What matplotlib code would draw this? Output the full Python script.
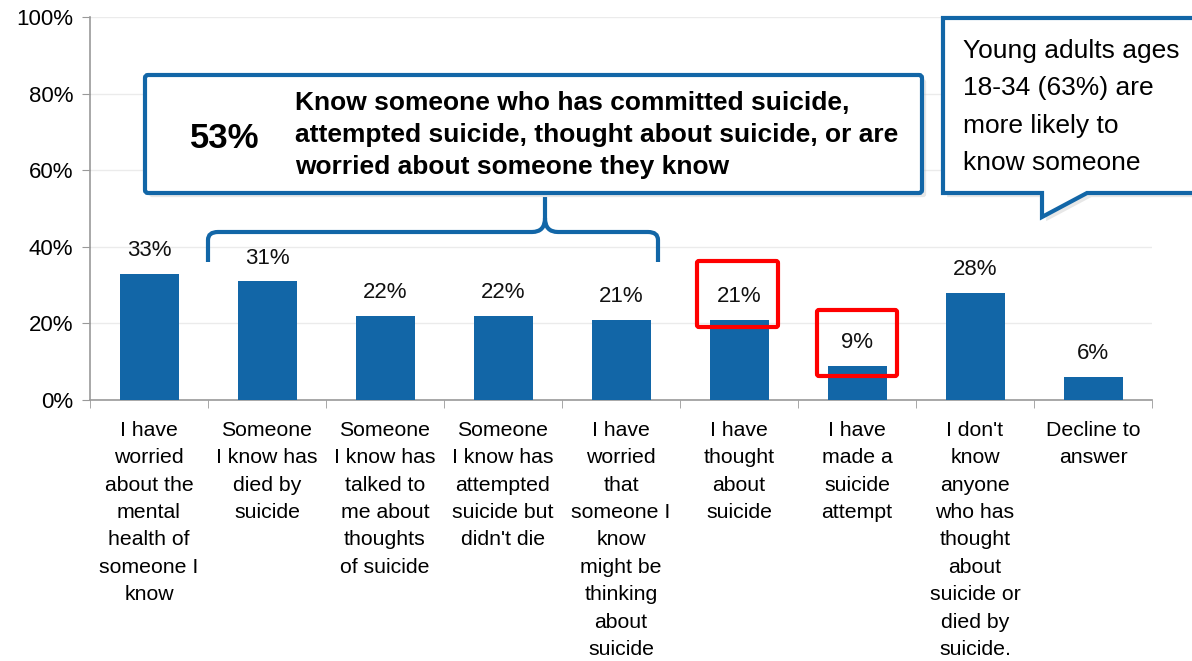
import matplotlib
matplotlib.use("Agg")
import matplotlib.pyplot as plt
from matplotlib.path import Path
from matplotlib.patches import PathPatch, FancyBboxPatch
from matplotlib.transforms import Affine2D
import matplotlib.patheffects as pe

plt.rcParams['font.family'] = ['Liberation Sans', 'DejaVu Sans']

categories = [
    "I have\nworried\nabout the\nmental\nhealth of\nsomeone I\nknow",
    "Someone\nI know has\ndied by\nsuicide",
    "Someone\nI know has\ntalked to\nme about\nthoughts\nof suicide",
    "Someone\nI know has\nattempted\nsuicide but\ndidn't die",
    "I have\nworried\nthat\nsomeone I\nknow\nmight be\nthinking\nabout\nsuicide",
    "I have\nthought\nabout\nsuicide",
    "I have\nmade a\nsuicide\nattempt",
    "I don't\nknow\nanyone\nwho has\nthought\nabout\nsuicide or\ndied by\nsuicide.",
    "Decline to\nanswer",
]
values = [33, 31, 22, 22, 21, 21, 9, 28, 6]
yticks = [0, 20, 40, 60, 80, 100]
ytick_labels = ["0%", "20%", "40%", "60%", "80%", "100%"]

BLUE = "#1266A7"
W, H = 1192, 661
fig = plt.figure(figsize=(W / 100, H / 100), dpi=100)
ax = fig.add_axes([90 / W, 1 - 400 / H, (1152 - 90) / W, (400 - 17) / H])

x = list(range(len(values)))
ax.bar(x, values, width=0.5, color=BLUE, zorder=3)
for xi, v in zip(x, values):
    ax.text(xi, v + 3.3, f"{v}%", ha="center", va="bottom", fontsize=16, color="#111111", zorder=5)

ax.set_xlim(-0.5, len(values) - 0.5)
ax.set_ylim(0, 100)
ax.set_yticks(yticks)
ax.set_yticklabels(ytick_labels, fontsize=16)
ax.set_xticks(x)
ax.set_xticklabels(categories, fontsize=15.3, linespacing=1.56, va="top")
ax.set_xticks([i - 0.5 for i in range(len(values) + 1)], minor=True)
ax.tick_params(axis="x", which="major", length=0, pad=15)
ax.tick_params(axis="x", which="minor", length=6, color="#999999", direction="out")
ax.tick_params(axis="y", length=6, color="#999999", direction="out", pad=6)
ax.grid(axis="y", color="#EBEBEB", linewidth=1, zorder=0)
for s in ["top", "right"]:
    ax.spines[s].set_visible(False)
for s in ["left", "bottom"]:
    ax.spines[s].set_color("#999999")
    ax.spines[s].set_linewidth(1.2)

# pixel transform (top-left origin)
pxT = Affine2D().scale(1 / W, -1 / H).translate(0, 1) + fig.transFigure

shadow = [pe.SimplePatchShadow(offset=(3, -3), shadow_rgbFace="#BBBBBB", alpha=0.35), pe.Normal()]

# callout 1 box
box1 = FancyBboxPatch((145, 75), 777, 118, boxstyle="round,pad=0,rounding_size=3",
                      transform=pxT, facecolor="white", edgecolor=BLUE, linewidth=3,
                      zorder=10, path_effects=shadow)
fig.add_artist(box1)
fig.text(225 / W, 1 - 138 / H, "53%", fontsize=25, fontweight="bold", ha="center", va="center", zorder=11)
fig.text(295 / W, 1 - 135 / H,
         "Know someone who has committed suicide,\nattempted suicide, thought about suicide, or are\nworried about someone they know",
         fontsize=19, fontweight="bold", ha="left", va="center", linespacing=1.43, zorder=11)

# bracket
verts = [(208, 262), (208, 240), (208, 232), (218, 232), (532, 232), (545, 232), (545, 218),
         (545, 197), (545, 218), (545, 232), (558, 232), (648, 232), (658, 232), (658, 240), (658, 262)]
codes = [Path.MOVETO, Path.LINETO, Path.CURVE3, Path.CURVE3, Path.LINETO, Path.CURVE3, Path.CURVE3,
         Path.LINETO, Path.MOVETO, Path.CURVE3, Path.CURVE3, Path.LINETO, Path.CURVE3, Path.CURVE3, Path.LINETO]
fig.add_artist(PathPatch(Path(verts, codes), transform=pxT, facecolor="none",
                         edgecolor=BLUE, linewidth=3, zorder=9, capstyle="butt"))

# callout 2 (speech bubble)
cv = [(943, 18), (1210, 18), (1210, 193), (1087, 193), (1042, 217), (1042, 193), (943, 193), (943, 18)]
cc = [Path.MOVETO] + [Path.LINETO] * 6 + [Path.CLOSEPOLY]
fig.add_artist(PathPatch(Path(cv, cc), transform=pxT, facecolor="white", edgecolor=BLUE,
                         linewidth=3, zorder=10, joinstyle="miter", path_effects=shadow))
fig.text(963 / W, 1 - 107 / H, "Young adults ages\n18-34 (63%) are\nmore likely to\nknow someone",
         fontsize=19, ha="left", va="center", linespacing=1.7, zorder=11)

# red highlight boxes
for (x0, y0, x1, y1) in [(697, 261, 778, 327), (817, 310, 897, 376)]:
    fig.add_artist(FancyBboxPatch((x0, y0), x1 - x0, y1 - y0, boxstyle="round,pad=0,rounding_size=2",
                                  transform=pxT, facecolor="none", edgecolor="#FF0000",
                                  linewidth=3, zorder=8))

fig.savefig("out.png", dpi=100)
